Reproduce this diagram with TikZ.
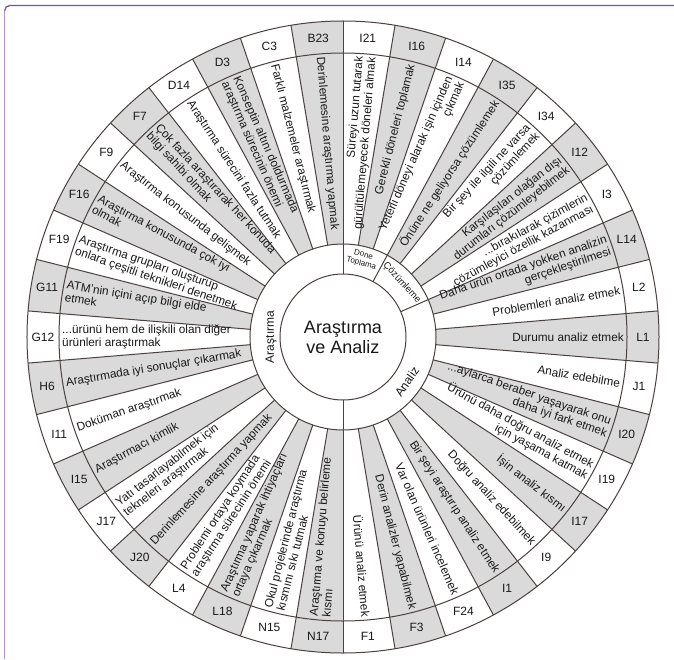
\documentclass[tikz,border=0pt]{standalone}
\usepackage{fontspec}
\setmainfont{Liberation Sans}
\definecolor{linec}{RGB}{75,65,62}
\definecolor{cellg}{RGB}{218,218,218}
\definecolor{topc}{RGB}{125,80,160}
\definecolor{leftc}{RGB}{180,145,205}
\definecolor{txt}{RGB}{25,25,25}
\def\items{I21/{Süreyi uzun tutarak\\gürültülemeyecek döneleri almak},
I16/{Gerekli döneleri toplamak},
I14/{Yeterli döneyi alarak işin içinden\\çıkmak},
I35/{Önüne ne geliyorsa çözümlemek},
I34/{Bir şey ile ilgili ne varsa\\çözümlemek},
I12/{Karşılaşılan olağan dışı\\durumları çözümleyebilmek},
I3/{...bırakılarak çizimlerin\\çözümleyici özellik kazanması},
L14/{Daha ürün ortada yokken analizin\\gerçekleştirilmesi},
L2/{Problemleri analiz etmek},
L1/{Durumu analiz etmek},
J1/{Analiz edebilme},
I20/{...aylarca beraber yaşayarak onu\\daha iyi fark etmek},
I19/{Ürünü daha doğru analiz etmek\\için yaşama katmak},
I17/{İşin analiz kısmı},
I9/{Doğru analiz edebilmek},
I1/{Bir şeyi araştırıp analiz etmek},
F24/{Var olan ürünleri incelemek},
F3/{Derin analizler yapabilmek},
F1/{Ürünü analiz etmek},
N17/{Araştırma ve konuyu belirleme\\kısmı},
N15/{Okul projelerinde araştırma\\kısmını sıkı tutmak},
L18/{Araştırma yaparak ihtiyaçları\\ortaya çıkarmak},
L4/{Problemi ortaya koymada\\araştırma sürecinin önemi},
J20/{Derinlemesine araştırma yapmak},
J17/{Yatı tasarlayabilmek için\\tekneleri araştırmak},
I15/{Araştırmacı kimlik},
I11/{Doküman araştırmak},
H6/{Araştırmada iyi sonuçlar çıkarmak},
G12/{...ürünü hem de ilişkili olan diğer\\ürünleri araştırmak},
G11/{ATM'nin içini açıp bilgi elde\\etmek},
F19/{Araştırma grupları oluşturup\\onlara çeşitli teknikleri denetmek},
F16/{Araştırma konusunda çok iyi\\olmak},
F9/{Araştırma konusunda gelişmek},
F7/{Çok fazla araştırarak her konuda\\bilgi sahibi olmak},
D14/{Araştırma sürecini fazla tutmak},
D3/{Konseptin altını doldurmada\\araştırma sürecinin önemi},
C3/{Farklı malzemeler araştırmak},
B23/{Derinlemesine araştırma yapmak}}
\begin{document}
\begin{tikzpicture}[x=1pt,y=1pt,
  desc/.style={font=\fontsize{11.8}{12.6}\selectfont, text=txt, inner sep=0pt},
  codelbl/.style={font=\fontsize{12}{13}\selectfont, text=txt, inner sep=0pt},
  ringlbl/.style={font=\fontsize{12}{13}\selectfont, text=txt, inner sep=0pt},
  ring/.style={draw=linec, line width=1pt}]
\useasboundingbox (-343,-322) rectangle (331,337);
\fill[white] (-343,-322) rectangle (331,337);
\def\dA{9.4736842}
% sector fills
\foreach \n in {0,...,37}{
  \pgfmathsetmacro\aa{90-\n*\dA}
  \pgfmathsetmacro\ab{90-(\n+1)*\dA}
  \ifodd\n\def\fc{cellg}\else\def\fc{white}\fi
  \fill[\fc] (\aa:93) -- (\aa:316) arc[start angle=\aa, end angle=\ab, radius=316] -- (\ab:93) arc[start angle=\ab, end angle=\aa, radius=93] -- cycle;
}
% radial lines
\foreach \n in {0,...,37}{
  \pgfmathsetmacro\aa{90-\n*\dA}
  \draw[ring] (\aa:93) -- (\aa:316);
}
% circles
\draw[ring] (0,0) circle[radius=316];
\draw[ring] (0,0) circle[radius=284];
\draw[ring] (0,0) circle[radius=93];
\draw[ring] (0,0) circle[radius=63];
% middle ring dividers
\foreach \a in {90,61.5789,23.6842,270}{
  \draw[ring] (\a:63) -- (\a:93);
}
% texts
\foreach \c/\t [count=\n from 0] in \items {
  \pgfmathsetmacro\am{90-(\n+0.5)*\dA}
  \node[codelbl] (c\n) at (\am:300) {\c};
  \ifnum\n<19
    \node[desc, anchor=east, rotate=\am, align=right] (t\n) at (\am:281) {\t};
  \else
    \pgfmathsetmacro\ar{\am+180}
    \node[desc, anchor=west, rotate=\ar, align=left] (t\n) at (\am:281) {\t};
  \fi
}
% ring labels
\node[ringlbl, rotate=90] (labA) at (180:72) {Araştırma};
\node[ringlbl, rotate=55] (labB) at (-35:78) {Analiz};
\node[ringlbl, font=\fontsize{9.5}{10}\selectfont, rotate=-47.4] (labC) at (42.6:80) {Çözümleme};
\node[ringlbl, font=\fontsize{8}{9}\selectfont, rotate=-14, align=center] (labD) at (76:80) {Done\\Toplama};
% centre
\node[font=\fontsize{18}{20}\selectfont, text=txt, align=center] (centre) at (0,0) {Araştırma\\ve Analiz};
% frame
\draw[leftc, line width=1.6pt] (-338.3,-322) -- (-338.3,326.5);
\draw[topc, line width=1.3pt] (-338.3,326.5) arc[start angle=180, end angle=90, radius=5] -- (331,331.5);
\end{tikzpicture}
\end{document}
